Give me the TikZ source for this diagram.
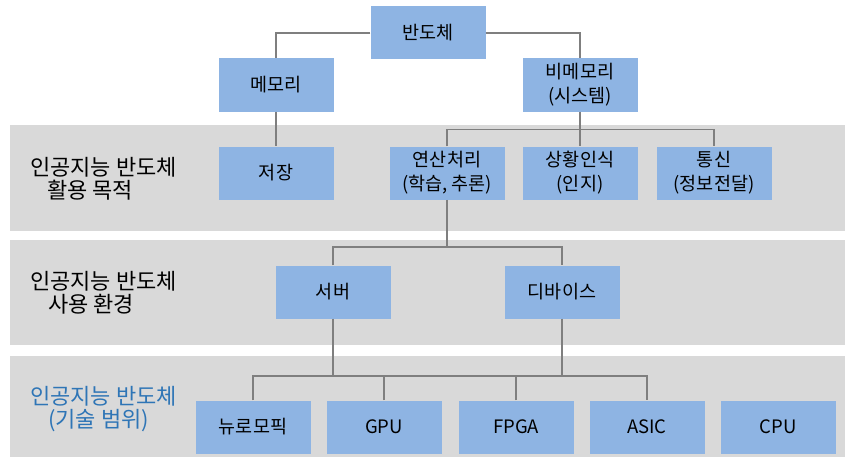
\documentclass[tikz,border=0pt]{standalone}
\usepackage{fontspec}
\setmainfont{Noto Sans CJK KR}
\usetikzlibrary{calc}
\definecolor{boxblue}{HTML}{8EB4E3}
\definecolor{bandgray}{HTML}{D9D9D9}
\definecolor{linegray}{HTML}{7F7F7F}
\definecolor{labelblue}{HTML}{2E75B6}
\begin{document}
\begin{tikzpicture}[x=1pt,y=-1pt,
  item/.style={fill=boxblue,minimum width=115pt,minimum height=53pt,inner sep=0pt,
    align=center,font=\fontsize{18.5}{24}\selectfont},
  bandlabel/.style={anchor=west,align=left,inner sep=0pt,font=\fontsize{22}{23.5}\selectfont},
  link/.style={draw=linegray,line width=1.6pt}]
  % canvas and the three gray bands
  \fill[white] (0,0) rectangle (845,460);
  \useasboundingbox (0,0) rectangle (845,460);
  \fill[bandgray] (10,125) rectangle (845,231);
  \fill[bandgray] (10,240) rectangle (845,345);
  \fill[bandgray] (10,356) rectangle (845,457);

  % band captions
  \node[bandlabel] (lab1) at (30,179) {인공지능 반도체\\\hspace{17pt}활용 목적};
  \node[bandlabel] (lab2) at (30,293) {인공지능 반도체\\\hspace{18pt}사용 환경};
  \node[bandlabel,text=labelblue] (lab3) at (30,409) {인공지능 반도체\\\hspace{18pt}(기술 범위)};

  % top tree
  \node[item] (root) at (428,33) {반도체};
  \node[item] (mem) at (276,85) {메모리};
  \node[item] (nonmem) at (580,85) {비메모리\\(시스템)};

  % purposes
  \node[item] (store) at (276,173) {저장};
  \node[item] (calcb) at (447,173) {연산처리\\(학습, 추론)};
  \node[item] (sense) at (580,173) {상황인식\\(인지)};
  \node[item] (comm) at (714,173) {통신\\(정보전달)};

  % environments
  \node[item] (server) at (333,292) {서버};
  \node[item] (device) at (562,292) {디바이스};

  % technologies
  \node[item] (neuro) at (253,427) {뉴로모픽};
  \node[item] (gpu) at (384,427) {GPU};
  \node[item] (fpga) at (516,427) {FPGA};
  \node[item] (asic) at (647,427) {ASIC};
  \node[item] (cpu) at (778,427) {CPU};

  % connectors
  \draw[link] (root.west) -| (mem.north);
  \draw[link] (root.east) -| (nonmem.north);
  \draw[link] (mem.south) -- (store.north);
  \draw[link] (nonmem.south) -- (sense.north);
  \draw[link] (calcb.north) -- ++(0,-17) -| (comm.north);

  \coordinate (split2) at (447,247);
  \draw[link] (calcb.south) -- (split2);
  \draw[link] (server.north) |- (split2) -| (device.north);

  \coordinate (bus) at (0,376);
  \draw[link] (server.south) -- (server.south |- bus);
  \draw[link] (device.south) -- (device.south |- bus);
  \draw[link] (neuro.north) -- (neuro.north |- bus) -| (asic.north);
  \draw[link] (gpu.north) -- (gpu.north |- bus);
  \draw[link] (fpga.north) -- (fpga.north |- bus);
\end{tikzpicture}
\end{document}
